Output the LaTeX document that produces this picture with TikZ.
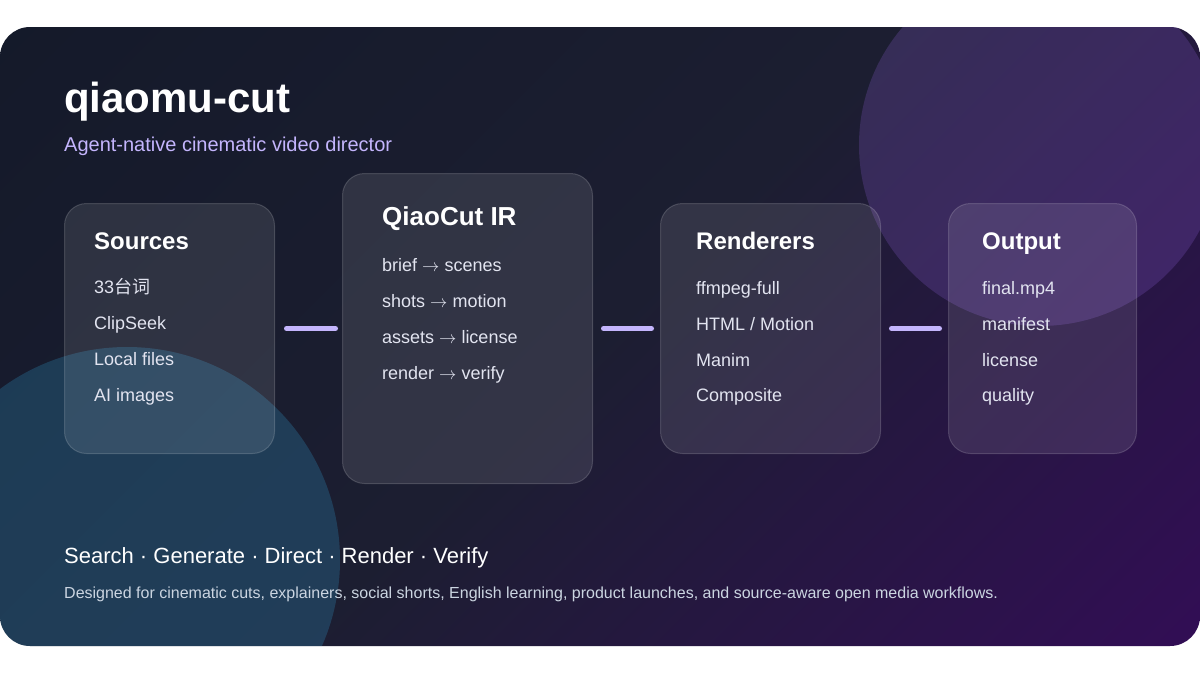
\documentclass[tikz,border=0pt]{standalone}
\usepackage{fontspec}
\setmainfont{Liberation Sans}
\newfontfamily\cjk{Noto Sans CJK SC}
\definecolor{bgA}{HTML}{111827}
\definecolor{bgB}{HTML}{1C1E31}
\definecolor{bgC}{HTML}{3B0764}
\definecolor{lav}{HTML}{C4B5FD}
\definecolor{itemc}{HTML}{E2E4F0}
\definecolor{descc}{HTML}{CBD5E1}
\definecolor{tealc}{HTML}{38BDF8}
\definecolor{purpc}{HTML}{9F6AF0}
\pgfdeclarehorizontalshading{bgshade}{100bp}{color(0bp)=(bgA); color(50bp)=(bgB); color(100bp)=(bgC)}
\newcommand{\myarr}{ $\rightarrow$ }
\begin{document}
\begin{tikzpicture}[x=1pt,y=-1pt,
  box/.style={draw=white, draw opacity=0.16, fill=white, fill opacity=0.1, rounded corners=22pt, line width=1pt, inner sep=0pt},
  conn/.style={draw=lav, line width=5pt, line cap=round},
  maintitle/.style={anchor=base west, inner sep=0pt, text=white, font=\fontsize{42pt}{50pt}\selectfont\bfseries},
  subtitle/.style={anchor=base west, inner sep=0pt, text=lav, font=\fontsize{20pt}{24pt}\selectfont},
  boxtitle/.style={anchor=base west, inner sep=0pt, text=white, font=\fontsize{24pt}{28pt}\selectfont\bfseries},
  bigboxtitle/.style={anchor=base west, inner sep=0pt, text=white, font=\fontsize{26pt}{30pt}\selectfont\bfseries},
  item/.style={anchor=base west, inner sep=0pt, text=itemc, font=\fontsize{18pt}{22pt}\selectfont},
  tagline/.style={anchor=base west, inner sep=0pt, text=white, font=\fontsize{22pt}{26pt}\selectfont},
  desc/.style={anchor=base west, inner sep=0pt, text=descc, font=\fontsize{16pt}{19pt}\selectfont}
]
\useasboundingbox (0,0) rectangle (1200,675);
\fill[white] (0,0) rectangle (1200,675);
\begin{scope}
  \clip[rounded corners=30pt] (0,27) rectangle (1200,646);
  \shade[shading=bgshade, shading angle=-45] (0,27) rectangle (1200,646);
  \fill[tealc, opacity=0.2] (127,560) circle (213pt);
  \fill[purpc, opacity=0.2] (1040,145) circle (181pt);
\end{scope}

% header
\node[maintitle] (title) at (64,112) {qiaomu-cut};
\node[subtitle] (sub) at (64,151) {Agent-native cinematic video director};

% boxes
\node[box, minimum width=210pt, minimum height=250pt, anchor=north west] (src) at (64,203) {};
\node[box, minimum width=250pt, minimum height=310pt, anchor=north west] (ir) at (342,173) {};
\node[box, minimum width=220pt, minimum height=250pt, anchor=north west] (ren) at (660,203) {};
\node[box, minimum width=188pt, minimum height=250pt, anchor=north west] (out) at (948,203) {};

% connectors
\draw[conn, shorten <=11.5pt, shorten >=6.5pt] (src.east) -- (ir.west);
\draw[conn, shorten <=10.5pt, shorten >=8.5pt] (ir.east) -- (ren.west);
\draw[conn, shorten <=10.5pt, shorten >=8.5pt] (ren.east) -- (out.west);

% Sources
\node[boxtitle] (srcT) at (94,249) {Sources};
\node[item] (src1) at (94,293.5) {33{\cjk 台词}};
\node[item] (src2) at (94,329.5) {ClipSeek};
\node[item] (src3) at (94,365.5) {Local files};
\node[item] (src4) at (94,401) {AI images};

% QiaoCut IR
\node[bigboxtitle] (irT) at (382,225) {QiaoCut IR};
\node[item] (ir1) at (382,271) {brief\myarr scenes};
\node[item] (ir2) at (382,307) {shots\myarr motion};
\node[item] (ir3) at (382,343) {assets\myarr license};
\node[item] (ir4) at (382,379) {render\myarr verify};

% Renderers
\node[boxtitle] (renT) at (696,249.5) {Renderers};
\node[item] (ren1) at (696,294) {ffmpeg-full};
\node[item] (ren2) at (696,330) {HTML / Motion};
\node[item] (ren3) at (696,366) {Manim};
\node[item] (ren4) at (696,401.5) {Composite};

% Output
\node[boxtitle] (outT) at (982,249.5) {Output};
\node[item] (out1) at (982,294) {final.mp4};
\node[item] (out2) at (982,330) {manifest};
\node[item] (out3) at (982,366) {license};
\node[item] (out4) at (982,401.5) {quality};

% footer
\node[tagline] (tag) at (64,563) {Search · Generate · Direct · Render · Verify};
\node[desc] (desc) at (64,598) {Designed for cinematic cuts, explainers, social shorts, English learning, product launches, and source-aware open media workflows.};
\end{tikzpicture}
\end{document}
